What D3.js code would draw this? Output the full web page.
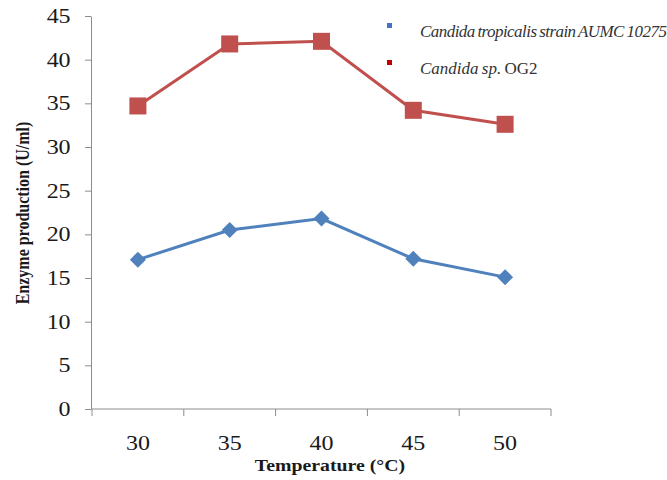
<!DOCTYPE html>
<html>
<head>
<meta charset="utf-8">
<script src="https://cdn.jsdelivr.net/npm/d3@7"></script>
<style>
  body { margin: 0; background: #fff; }
  svg { display: block; }
  .axis path, .axis line { stroke: #8c8c8c; }
</style>
</head>
<body>
<svg id="chart" width="667" height="480"></svg>
<script>
  'use strict';

  var temperatures = ['30', '35', '40', '45', '50'];
  var tropicalisValues = [17.1, 20.5, 21.8, 17.2, 15.1];
  var og2Values = [34.7, 41.8, 42.1, 34.2, 32.6];
  var yTicks = [0, 5, 10, 15, 20, 25, 30, 35, 40, 45];

  var serif = '"Liberation Serif", "Times New Roman", serif';
  // the source picture is a little stretched sideways, so is the axis text here
  var stretch = 1.2;

  var svgEl = d3.select('#chart');

  var x = d3.scaleBand().domain(temperatures).range([92, 551]);
  var y = d3.scaleLinear().domain([0, 45]).range([409, 16]);

  // axes
  var xAxisEl = svgEl.append('g')
    .attr('class', 'axis')
    .attr('transform', 'translate(0,409)')
    .call(d3.axisBottom(x).tickSize(0).tickPadding(27));

  xAxisEl.select('.domain').attr('d', 'M92,0H551');

  // tick marks sit on the category boundaries
  xAxisEl.selectAll('.bound')
    .data(d3.range(temperatures.length + 1))
    .enter()
    .append('line')
    .attr('class', 'bound')
    .attr('x1', function(i) { return 92 + i * x.step(); })
    .attr('x2', function(i) { return 92 + i * x.step(); })
    .attr('y1', 0)
    .attr('y2', 7);

  svgEl.append('g')
    .attr('class', 'axis')
    .attr('transform', 'translate(91,0)')
    .call(d3.axisLeft(y).tickValues(yTicks).tickSize(6).tickPadding(11).tickSizeOuter(0));

  svgEl.selectAll('.axis .tick text')
    .style('font-family', serif)
    .style('font-size', '20px')
    .attr('fill', '#1a1a1a')
    .attr('transform', 'scale(' + stretch + ',1)');

  // axis titles
  svgEl.append('text')
    .attr('transform', 'translate(29,213) rotate(-90) scale(1,' + stretch + ')')
    .attr('text-anchor', 'middle')
    .style('font-family', serif)
    .style('font-weight', 'bold')
    .style('font-size', '16px')
    .attr('fill', '#1a1a1a')
    .text('Enzyme production (U/ml)');

  svgEl.append('text')
    .attr('transform', 'translate(330,471) scale(' + stretch + ',1)')
    .attr('text-anchor', 'middle')
    .style('font-family', serif)
    .style('font-weight', 'bold')
    .style('font-size', '16.5px')
    .attr('fill', '#1a1a1a')
    .text('Temperature (°C)');

  var line = d3.line()
    .x(function(d, i) { return x(temperatures[i]) + x.bandwidth() / 2; })
    .y(function(d) { return y(d); });

  // red series
  svgEl.append('path')
    .datum(og2Values)
    .attr('d', line)
    .attr('fill', 'none')
    .attr('stroke', '#C0504D')
    .attr('stroke-width', 3);

  svgEl.selectAll('.og2')
    .data(og2Values)
    .enter()
    .append('rect')
    .attr('class', 'og2')
    .attr('x', function(d, i) { return x(temperatures[i]) + x.bandwidth() / 2 - 8.5; })
    .attr('y', function(d) { return y(d) - 8.5; })
    .attr('width', 17)
    .attr('height', 17)
    .attr('fill', '#C0504D');

  // blue series
  svgEl.append('path')
    .datum(tropicalisValues)
    .attr('d', line)
    .attr('fill', 'none')
    .attr('stroke', '#4F81BD')
    .attr('stroke-width', 3);

  svgEl.selectAll('.trop')
    .data(tropicalisValues)
    .enter()
    .append('path')
    .attr('class', 'trop')
    .attr('d', 'M0,-8L8,0L0,8L-8,0Z')
    .attr('transform', function(d, i) {
      return 'translate(' + (x(temperatures[i]) + x.bandwidth() / 2) + ',' + y(d) + ')';
    })
    .attr('fill', '#4F81BD');

  // legend
  var legendEl = svgEl.append('g');

  legendEl.append('rect').attr('x', 387).attr('y', 23).attr('width', 5).attr('height', 5).attr('fill', '#4472C4');
  legendEl.append('rect').attr('x', 387).attr('y', 60).attr('width', 5).attr('height', 5).attr('fill', '#C00000');

  legendEl.append('text')
    .attr('x', 420)
    .attr('y', 37)
    .attr('fill', '#333')
    .style('font-family', serif)
    .style('font-size', '17px')
    .style('font-style', 'italic')
    .style('letter-spacing', '-0.55px')
    .style('word-spacing', '-1px')
    .text('Candida tropicalis strain AUMC 10275');

  var t2 = legendEl.append('text')
    .attr('x', 420)
    .attr('y', 74)
    .attr('fill', '#333')
    .style('font-family', serif)
    .style('font-size', '17px')
    .style('word-spacing', '-1px');
  t2.append('tspan').style('font-style', 'italic').text('Candida sp.');
  t2.append('tspan').text(' OG2');
</script>
</body>
</html>
